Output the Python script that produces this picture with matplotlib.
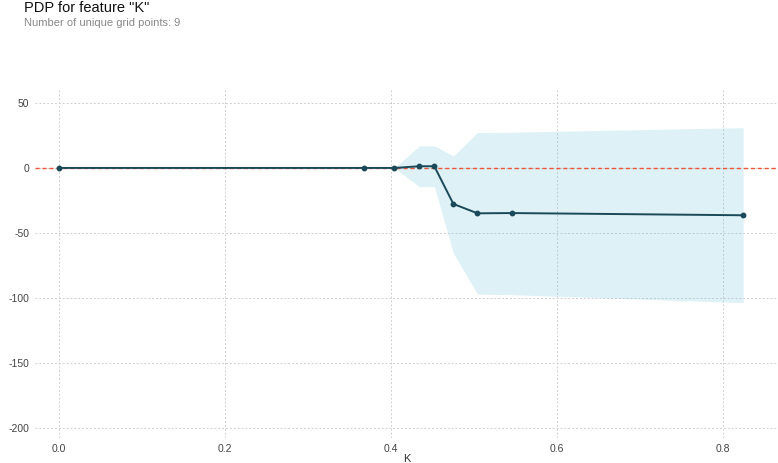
import matplotlib.pyplot as plt

plt.rcParams['font.family'] = ['Liberation Sans', 'DejaVu Sans']

# PDP data
grid_x = [0.0, 0.367, 0.404, 0.434, 0.452, 0.475, 0.504, 0.546, 0.824]
pdp_mean = [0.0, 0.0, 0.0, 1.3, 1.3, -27.7, -34.9, -34.7, -36.4]
pdp_upper = [0.0, 0.0, 0.0, 17.0, 17.0, 9.2, 27.2, 27.5, 31.0]
pdp_lower = [0.0, 0.0, 0.0, -14.4, -14.4, -65.6, -97.0, -97.5, -103.6]

x_ticks = [0.0, 0.2, 0.4, 0.6, 0.8]
y_ticks = [50, 0, -50, -100, -150, -200]

fig = plt.figure(figsize=(7.78, 4.63), dpi=100)
ax = fig.add_axes([0.045, 0.054, 0.955, 0.756])

# confidence band
ax.fill_between(grid_x, pdp_lower, pdp_upper, color='#66C2D7', alpha=0.22, linewidth=0)
# zero reference line
ax.axhline(0, color='#EF553B', linestyle='--', linewidth=1.0, dashes=(3, 2), zorder=3)
# mean line
ax.plot(grid_x, pdp_mean, color='#1A4A5A', linewidth=1.4, marker='o', markersize=3.2, zorder=4)

ax.set_xlim(-0.029, 0.866)
ax.set_ylim(-207.7, 61.5)
ax.set_xticks(x_ticks)
ax.set_xticklabels([f'{v:.1f}' for v in x_ticks])
ax.set_yticks(y_ticks)
ax.set_yticklabels([str(v) for v in y_ticks])
ax.grid(color='#d0d0d0', linestyle=(0, (2, 2)), linewidth=0.7)
ax.set_axisbelow(True)
for s in ax.spines.values():
    s.set_visible(False)
ax.tick_params(axis='both', length=0, labelsize=7.5, labelcolor='#444444', pad=4)
ax.set_xlabel('K', fontsize=8, color='#333333', labelpad=0)

fig.text(0.031, 0.982, 'PDP for feature "K"', fontsize=10.5, color='#111111', va='center')
fig.text(0.031, 0.951, 'Number of unique grid points: 9', fontsize=8, color='#888888', va='center')

fig.savefig('out.png', dpi=100)
